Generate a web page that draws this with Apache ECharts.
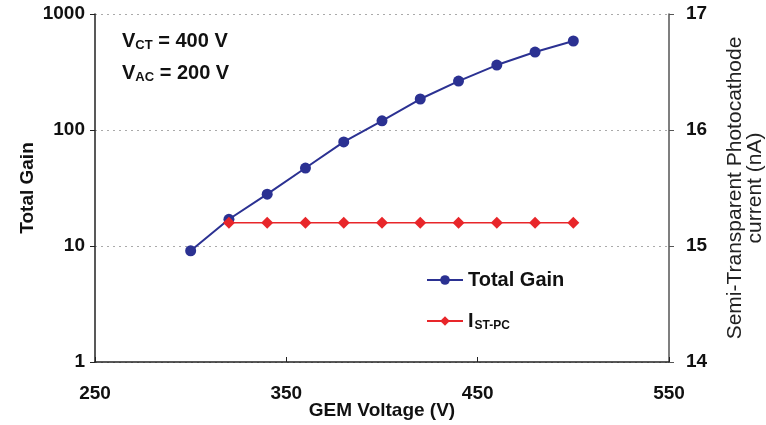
<!DOCTYPE html>
<html><head><meta charset="utf-8">
<script src="https://cdn.jsdelivr.net/npm/echarts@6/dist/echarts.min.js"></script>
<style>html,body{margin:0;padding:0;background:#fff}#c{width:766px;height:425px}</style>
</head><body><div id="c"></div>
<script>
const gainVoltage = [300, 320, 340, 360, 380, 400, 420, 440, 460, 480, 500];
const totalGain = [9.1, 17, 28, 47, 79, 120, 185, 264, 363, 470, 585];
const currentVoltage = [320, 340, 360, 380, 400, 420, 440, 460, 480, 500];
const stpcCurrent = [15.2, 15.2, 15.2, 15.2, 15.2, 15.2, 15.2, 15.2, 15.2, 15.2];
const xTicks = [250, 350, 450, 550];
const leftTicks = [1, 10, 100, 1000];
const rightTicks = [14, 15, 16, 17];

const F = 'Liberation Sans, Arial, sans-serif';
const chart = echarts.init(document.getElementById('c'));
chart.setOption({
  animation: false,
  backgroundColor: '#fff',
  grid: {left: 95, right: 97, top: 14, bottom: 63, outerBoundsMode: 'none', containLabel: false},
  xAxis: {
    type: 'value', min: 250, max: 550,
    name: 'GEM Voltage (V)', nameLocation: 'middle', nameGap: 39, nameMoveOverlap: false,
    nameTextStyle: {fontFamily: F, fontWeight: 'bold', fontSize: 19, color: '#111'},
    axisLine: {lineStyle: {color: '#222', width: 1.5}},
    axisTick: {inside: true, length: 5, customValues: xTicks, lineStyle: {color: '#222'}},
    axisLabel: {customValues: xTicks, margin: 22, fontFamily: F, fontWeight: 'bold', fontSize: 19, color: '#111'},
    splitLine: {show: false}
  },
  yAxis: [{
    type: 'log', logBase: 10, min: 1, max: 1000,
    name: 'Total Gain', nameLocation: 'middle', nameGap: 58, nameMoveOverlap: false,
    nameTextStyle: {fontFamily: F, fontWeight: 'bold', fontSize: 19, color: '#111'},
    axisLine: {show: true, lineStyle: {color: '#222', width: 1.5}},
    axisTick: {show: true, length: 5, lineStyle: {color: '#222'}},
    axisLabel: {margin: 10, fontFamily: F, fontWeight: 'bold', fontSize: 19, color: '#111',
      formatter: v => leftTicks.includes(Math.round(v)) ? String(Math.round(v)) : ''},
    splitLine: {show: true, lineStyle: {color: '#aaa', type: [2, 4], width: 1}}
  }, {
    type: 'value', min: 14, max: 17, interval: 1, position: 'right',
    name: 'Semi-Transparent Photocathode\ncurrent (nA)', nameLocation: 'middle', nameGap: 56, nameRotate: 90, nameMoveOverlap: false,
    nameTextStyle: {fontFamily: F, fontWeight: 'normal', fontSize: 21, color: '#222', lineHeight: 20},
    axisLine: {show: true, lineStyle: {color: '#555', width: 1.5}},
    axisTick: {show: true, length: 5, lineStyle: {color: '#555'}},
    axisLabel: {margin: 17, fontFamily: F, fontWeight: 'bold', fontSize: 19, color: '#111',
      formatter: v => rightTicks.includes(v) ? String(v) : ''},
    splitLine: {show: false}
  }],
  legend: {
    orient: 'vertical', left: 421, top: 265, itemGap: 21,
    itemWidth: 36, itemHeight: 12,
    data: ['Total Gain', 'IST-PC'],
    formatter: n => n === 'IST-PC' ? '{b|I}{s|ST-PC}' : '{b|' + n + '}',
    textStyle: {
      fontFamily: F, fontWeight: 'bold', fontSize: 20, color: '#111',
      rich: {
        b: {fontFamily: F, fontWeight: 'bold', fontSize: 20, color: '#111'},
        s: {fontFamily: F, fontWeight: 'bold', fontSize: 12, color: '#111', verticalAlign: 'bottom', padding: [9, 0, 0, 1]}
      }
    }
  },
  graphic: [{
    type: 'text', left: 122, top: 31,
    style: {rich: {
      b: {fontFamily: F, fontWeight: 'bold', fontSize: 20, fill: '#111'},
      s: {fontFamily: F, fontWeight: 'bold', fontSize: 13, fill: '#111', padding: [9, 0, 0, 0]}
    }, text: '{b|V}{s|CT}{b| = 400 V}'}
  }, {
    type: 'text', left: 122, top: 63,
    style: {rich: {
      b: {fontFamily: F, fontWeight: 'bold', fontSize: 20, fill: '#111'},
      s: {fontFamily: F, fontWeight: 'bold', fontSize: 13, fill: '#111', padding: [9, 0, 0, 0]}
    }, text: '{b|V}{s|AC}{b| = 200 V}'}
  }],
  series: [{
    name: 'Total Gain', type: 'line', yAxisIndex: 0,
    data: gainVoltage.map((x, i) => [x, totalGain[i]]),
    symbol: 'circle', symbolSize: 11,
    lineStyle: {color: '#2b3192', width: 2},
    itemStyle: {color: '#2b3192'}, z: 3
  }, {
    name: 'IST-PC', type: 'line', yAxisIndex: 1,
    data: currentVoltage.map((x, i) => [x, stpcCurrent[i]]),
    symbol: 'diamond', symbolSize: 12,
    lineStyle: {color: '#e8262a', width: 1.5},
    itemStyle: {color: '#e8262a'}, z: 4
  }]
});
</script></body></html>
